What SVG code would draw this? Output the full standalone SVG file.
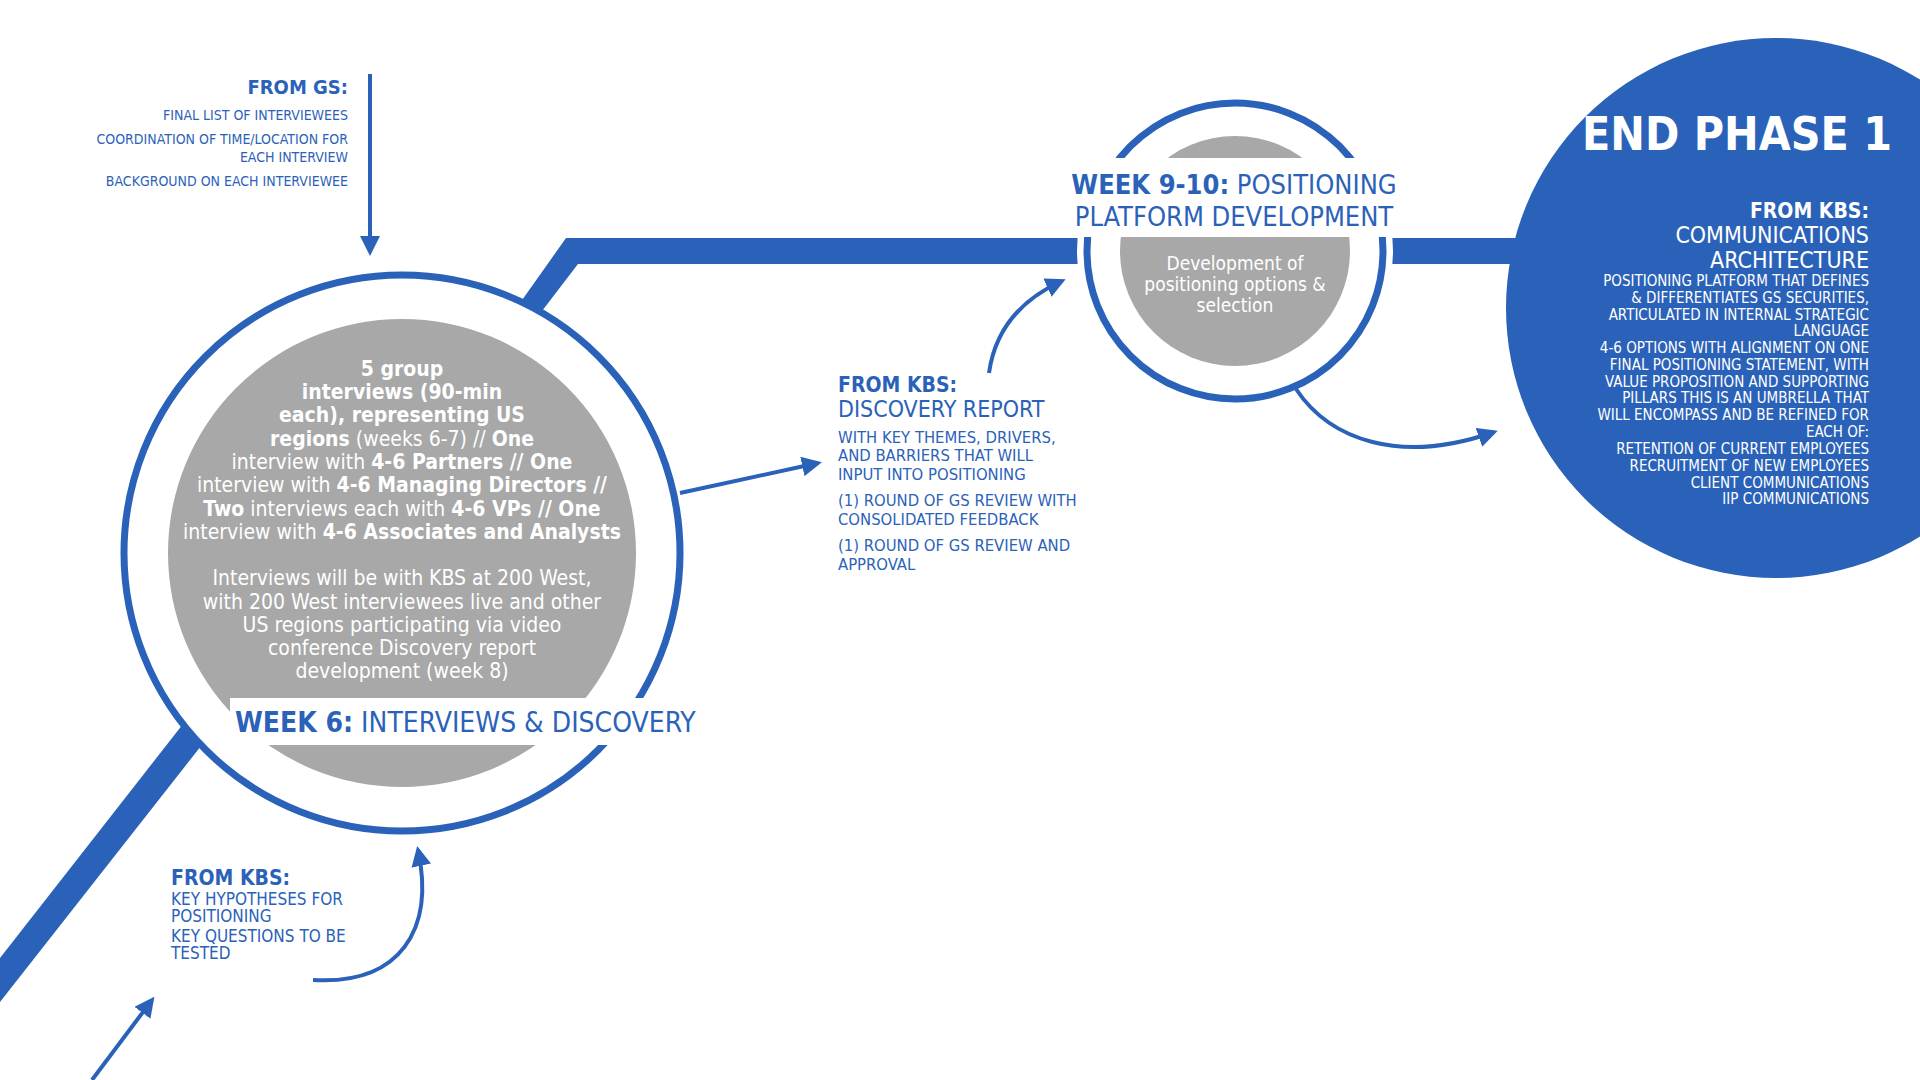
<svg xmlns="http://www.w3.org/2000/svg" width="1920" height="1080" viewBox="0 0 1920 1080">
<defs>
<style>
text{font-family:"Liberation Sans Narrow","DejaVu Sans Condensed","Liberation Sans",sans-serif}
.b{fill:#2b62b9}
.bs{fill:none;stroke:#2b62b9}
.g{fill:#a7a8a7}
.w{fill:#fff}
.bold{font-weight:bold}
.lt{font-weight:normal}
.small{font-size:14px;fill:#2b62b9}
.med{font-size:16.5px;fill:#2b62b9}
.inner{font-size:21px;fill:#fff;text-anchor:middle}
.end{font-size:15px;fill:#fff;text-anchor:end}
</style>
<marker id="ah" viewBox="0 0 10 10" refX="8" refY="5" markerWidth="5" markerHeight="5" orient="auto" markerUnits="strokeWidth"><path d="M0,0 L10,5 L0,10 z" fill="#2b62b9"/></marker>
</defs>
<rect width="1920" height="1080" fill="#fff"/>
<g id="band">
<polygon class="b" points="520,303 566,238 1560,238 1560,264 578,264 542,311"/>
<polygon class="b" points="0,958 183,724 201,746 0,1002"/>
</g>
<g id="end-phase">
<circle class="b" cx="1776" cy="308" r="270"/>
<text x="1892" y="150" font-size="46" class="bold" fill="#fff" text-anchor="end">END PHASE 1</text>
<text x="1869" y="218" font-size="21" class="bold" fill="#fff" text-anchor="end">FROM KBS:</text>
<text x="1869" y="243" font-size="23" fill="#fff" text-anchor="end">COMMUNICATIONS</text>
<text x="1869" y="268" font-size="23" fill="#fff" text-anchor="end">ARCHITECTURE</text>
<text class="end" x="1869" y="286">POSITIONING PLATFORM THAT DEFINES</text>
<text class="end" x="1869" y="303">&amp; DIFFERENTIATES GS SECURITIES,</text>
<text class="end" x="1869" y="320">ARTICULATED IN INTERNAL STRATEGIC</text>
<text class="end" x="1869" y="336">LANGUAGE</text>
<text class="end" x="1869" y="353">4-6 OPTIONS WITH ALIGNMENT ON ONE</text>
<text class="end" x="1869" y="370">FINAL POSITIONING STATEMENT, WITH</text>
<text class="end" x="1869" y="387">VALUE PROPOSITION AND SUPPORTING</text>
<text class="end" x="1869" y="403">PILLARS THIS IS AN UMBRELLA THAT</text>
<text class="end" x="1869" y="420">WILL ENCOMPASS AND BE REFINED FOR</text>
<text class="end" x="1869" y="437">EACH OF:</text>
<text class="end" x="1869" y="454">RETENTION OF CURRENT EMPLOYEES</text>
<text class="end" x="1869" y="471">RECRUITMENT OF NEW EMPLOYEES</text>
<text class="end" x="1869" y="488">CLIENT COMMUNICATIONS</text>
<text class="end" x="1869" y="504">IIP COMMUNICATIONS</text>
</g>
<g id="week9">
<circle class="w" cx="1235" cy="251" r="158"/>
<circle class="bs" cx="1235" cy="251" r="148" stroke-width="7"/>
<circle class="g" cx="1235" cy="251" r="115"/>
<rect class="w" x="1060" y="158" width="350" height="79"/>
<text x="1234" y="194" font-size="27" fill="#2b62b9" text-anchor="middle"><tspan class="bold">WEEK 9-10:</tspan> POSITIONING</text>
<text x="1234" y="226" font-size="27" fill="#2b62b9" text-anchor="middle">PLATFORM DEVELOPMENT</text>
<text x="1235" y="270" font-size="19" fill="#fff" text-anchor="middle">Development of</text>
<text x="1235" y="291" font-size="19" fill="#fff" text-anchor="middle">positioning options &amp;</text>
<text x="1235" y="312" font-size="19" fill="#fff" text-anchor="middle">selection</text>
</g>
<g id="week6">
<circle class="w" cx="402" cy="553" r="280"/>
<circle class="bs" cx="402" cy="553" r="278" stroke-width="7"/>
<circle class="g" cx="402" cy="553" r="234"/>
<rect class="w" x="230" y="698" width="480" height="47"/>
<text class="inner" x="402" y="376"><tspan class="bold">5 group</tspan></text>
<text class="inner" x="402" y="399"><tspan class="bold">interviews (90-min</tspan></text>
<text class="inner" x="402" y="422"><tspan class="bold">each), representing US</tspan></text>
<text class="inner" x="402" y="446"><tspan class="bold">regions</tspan> (weeks 6-7) // <tspan class="bold">One</tspan></text>
<text class="inner" x="402" y="469">interview with <tspan class="bold">4-6 Partners // One</tspan></text>
<text class="inner" x="402" y="492">interview with <tspan class="bold">4-6 Managing Directors //</tspan></text>
<text class="inner" x="402" y="516"><tspan class="bold">Two</tspan> interviews each with <tspan class="bold">4-6 VPs // One</tspan></text>
<text class="inner" x="402" y="539">interview with <tspan class="bold">4-6 Associates and Analysts</tspan></text>
<text class="inner" x="402" y="585">Interviews will be with KBS at 200 West,</text>
<text class="inner" x="402" y="609">with 200 West interviewees live and other</text>
<text class="inner" x="402" y="632">US regions participating via video</text>
<text class="inner" x="402" y="655">conference Discovery report</text>
<text class="inner" x="402" y="678">development (week 8)</text>
<text x="235" y="732" font-size="28" fill="#2b62b9"><tspan class="bold">WEEK 6:</tspan> INTERVIEWS &amp; DISCOVERY</text>
</g>
<g id="from-gs">
<text x="348" y="94" font-size="20" class="bold" fill="#2b62b9" text-anchor="end">FROM GS:</text>
<text class="small" x="348" y="120" text-anchor="end">FINAL LIST OF INTERVIEWEES</text>
<text class="small" x="348" y="144" text-anchor="end">COORDINATION OF TIME/LOCATION FOR</text>
<text class="small" x="348" y="162" text-anchor="end">EACH INTERVIEW</text>
<text class="small" x="348" y="186" text-anchor="end">BACKGROUND ON EACH INTERVIEWEE</text>
</g>
<g id="from-kbs-discovery">
<text x="838" y="392" font-size="21" class="bold" fill="#2b62b9">FROM KBS:</text>
<text x="838" y="417" font-size="23" fill="#2b62b9">DISCOVERY REPORT</text>
<text class="med" x="838" y="443">WITH KEY THEMES, DRIVERS,</text>
<text class="med" x="838" y="461">AND BARRIERS THAT WILL</text>
<text class="med" x="838" y="480">INPUT INTO POSITIONING</text>
<text class="med" x="838" y="506">(1) ROUND OF GS REVIEW WITH</text>
<text class="med" x="838" y="525">CONSOLIDATED FEEDBACK</text>
<text class="med" x="838" y="551">(1) ROUND OF GS REVIEW AND</text>
<text class="med" x="838" y="570">APPROVAL</text>
</g>
<g id="from-kbs-hypotheses">
<text x="171" y="885" font-size="21" class="bold" fill="#2b62b9">FROM KBS:</text>
<text x="171" y="905" font-size="17" fill="#2b62b9">KEY HYPOTHESES FOR</text>
<text x="171" y="922" font-size="17" fill="#2b62b9">POSITIONING</text>
<text x="171" y="942" font-size="17" fill="#2b62b9">KEY QUESTIONS TO BE</text>
<text x="171" y="959" font-size="17" fill="#2b62b9">TESTED</text>
</g>
<g id="connectors" class="bs" stroke-width="4" marker-end="url(#ah)">
<path d="M370,74 L370,252"/>
<path d="M680,493 L818,463"/>
<path d="M989,373 C995,330 1020,300 1062,281"/>
<path d="M1296,389 C1330,440 1400,465 1494,432"/>
<path d="M313,980 C400,985 435,930 418,850"/>
<path d="M92,1080 L152,1000"/>
</g>
</svg>
